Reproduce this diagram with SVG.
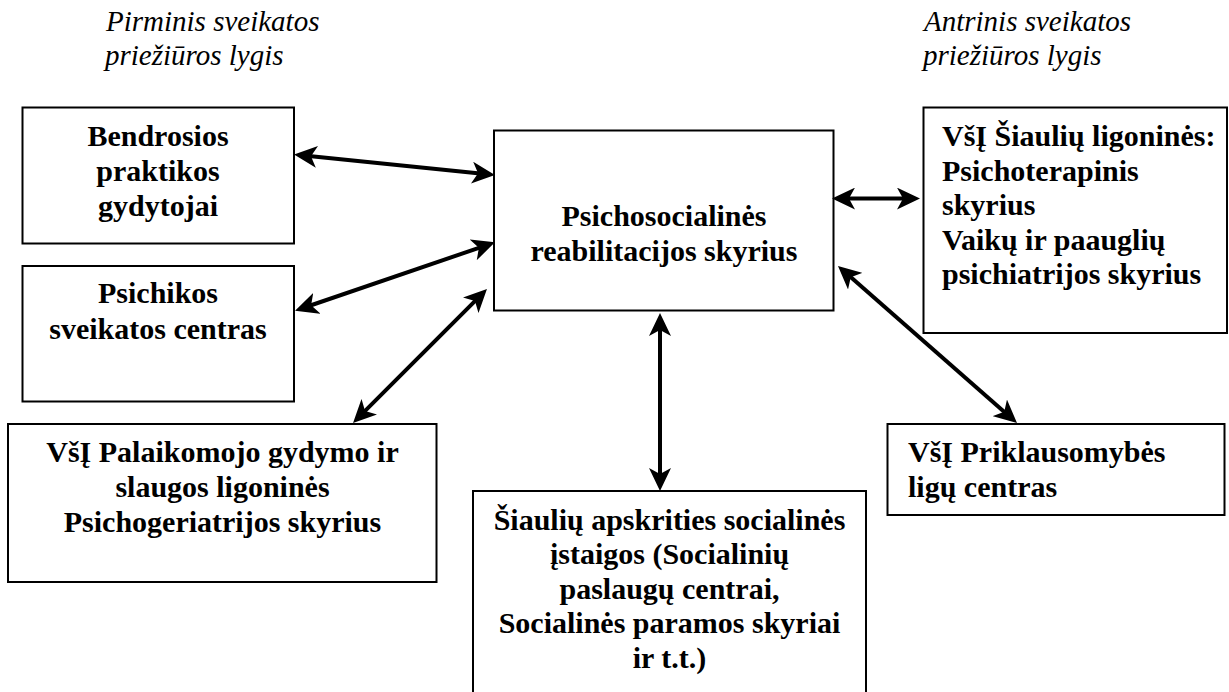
<svg xmlns="http://www.w3.org/2000/svg" width="1229" height="692" viewBox="0 0 1229 692">
<style>
.box{fill:#fff;stroke:#000;stroke-width:2}
.t{font-family:"Liberation Serif","Times New Roman",serif;font-weight:bold;font-size:30px;fill:#000}
.c{text-anchor:middle}
.lab{font-family:"Liberation Serif","Times New Roman",serif;font-style:italic;font-size:29px;fill:#000}
.arr{stroke:#000;stroke-width:4;fill:none;marker-start:url(#ah);marker-end:url(#ah)}
</style>
<defs>
<marker id="ah" markerUnits="userSpaceOnUse" viewBox="-13 -11 24 22" refX="0" refY="0" markerWidth="24" markerHeight="22" orient="auto-start-reverse">
<path d="M10,0 L-13,-11 L-7,0 L-13,11 Z" fill="#000"/>
</marker>
</defs>
<rect width="1229" height="692" fill="#fff"/>
<g id="labels">
<text class="lab" x="106" y="31">Pirminis sveikatos</text>
<text class="lab" x="105" y="65">priežiūros lygis</text>
<text class="lab" x="924" y="31">Antrinis sveikatos</text>
<text class="lab" x="923" y="65">priežiūros lygis</text>
</g>
<g id="node-bendrosios">
<rect class="box" x="22.5" y="107.5" width="271.5" height="136"/>
<text class="t c" x="158" y="146">Bendrosios</text>
<text class="t c" x="158" y="181">praktikos</text>
<text class="t c" x="158" y="216">gydytojai</text>
</g>
<g id="node-psichikos">
<rect class="box" x="22.5" y="266" width="271.5" height="135.5"/>
<text class="t c" x="158" y="303">Psichikos</text>
<text class="t c" x="158" y="338.5">sveikatos centras</text>
</g>
<g id="node-palaikomojo">
<rect class="box" x="8" y="424" width="428.5" height="158"/>
<text class="t c" x="222.5" y="462">VšĮ Palaikomojo gydymo ir</text>
<text class="t c" x="222.5" y="497">slaugos ligoninės</text>
<text class="t c" x="222.5" y="532">Psichogeriatrijos skyrius</text>
</g>
<g id="node-central">
<rect class="box" x="494" y="130.5" width="339.5" height="180"/>
<text class="t c" x="664" y="226">Psichosocialinės</text>
<text class="t c" x="664" y="261">reabilitacijos skyrius</text>
</g>
<g id="node-siauliu-ligonine">
<rect class="box" x="923.5" y="107.5" width="303.5" height="225.5"/>
<text class="t" x="942" y="146">VšĮ Šiaulių ligoninės:</text>
<text class="t" x="942" y="180.5">Psichoterapinis</text>
<text class="t" x="942" y="215">skyrius</text>
<text class="t" x="942" y="249.5">Vaikų ir paauglių</text>
<text class="t" x="942" y="284">psichiatrijos skyrius</text>
</g>
<g id="node-priklausomybes">
<rect class="box" x="887.5" y="424" width="337" height="91"/>
<text class="t" x="908" y="462">VšĮ Priklausomybės</text>
<text class="t" x="908" y="496.5">ligų centras</text>
</g>
<g id="node-socialines">
<rect class="box" x="473" y="491" width="393" height="215"/>
<text class="t c" x="669.5" y="529.5">Šiaulių apskrities socialinės</text>
<text class="t c" x="669.5" y="564">įstaigos (Socialinių</text>
<text class="t c" x="669.5" y="598.5">paslaugų centrai,</text>
<text class="t c" x="669.5" y="633">Socialinės paramos skyriai</text>
<text class="t c" x="669.5" y="667.5">ir t.t.)</text>
</g>
<g id="connectors">
<line class="arr" x1="304" y1="155.5" x2="485" y2="174" stroke-width="4.5"/>
<line class="arr" x1="304.5" y1="307.5" x2="485.5" y2="245.6"/>
<line class="arr" x1="360.1" y1="415.9" x2="479.9" y2="296.1" stroke-width="3.5"/>
<line class="arr" x1="842" y1="198.6" x2="910" y2="198.6"/>
<line class="arr" x1="845.5" y1="272.6" x2="1009.5" y2="416.4" stroke-width="3.5"/>
<line class="arr" x1="660" y1="323" x2="660" y2="481"/>
</g>
</svg>
